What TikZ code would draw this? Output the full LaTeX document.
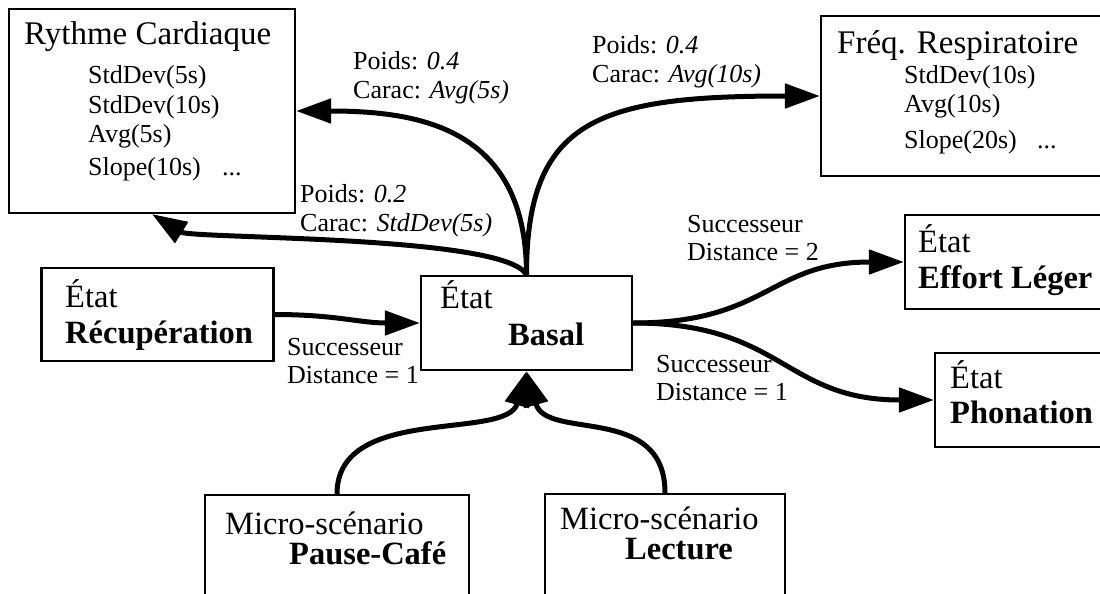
\documentclass[tikz,border=0pt]{standalone}
\usepackage{fontspec}
\setmainfont{Liberation Serif}
\usetikzlibrary{arrows.meta}
\begin{document}
\begin{tikzpicture}[x=1pt,y=-1pt,
  box/.style={draw, line width=2.2pt, inner sep=0pt, fill=white},
  conn/.style={line width=5pt, -{Triangle[length=35pt,width=24pt]}},
  ttl/.style={anchor=base west, inner sep=0pt, font=\fontsize{33}{38}\selectfont},
  itm/.style={anchor=base west, inner sep=0pt, font=\fontsize{26}{30}\selectfont},
  st/.style={anchor=base west, inner sep=0pt, font=\fontsize{32.5}{38}\selectfont},
  stb/.style={anchor=base west, inner sep=0pt, font=\fontsize{32.5}{38}\selectfont\bfseries},
  lbl/.style={anchor=base west, inner sep=0pt, font=\fontsize{26}{30}\selectfont}]
\useasboundingbox (0,0) rectangle (1100,594);
\clip (0,0) rectangle (1100,594);
\fill[white] (0,0) rectangle (1100,594);

% boxes
\node[box, minimum width=286pt, minimum height=204pt] (rc) at (152,111) {};
\node[box, minimum width=285pt, minimum height=160pt] (fr) at (963.5,96) {};
\node[box, minimum width=232pt, minimum height=93pt] (rec) at (157.5,314.5) {};
\node[box, minimum width=211pt, minimum height=94pt] (bas) at (526.5,323) {};
\node[box, minimum width=203pt, minimum height=94pt] (eff) at (1006.5,262) {};
\node[box, minimum width=173pt, minimum height=94pt] (pho) at (1021.5,400) {};
\node[box, minimum width=264pt, minimum height=114pt] (pau) at (337,552) {};
\node[box, minimum width=240pt, minimum height=114pt] (lec) at (665,551) {};

% texts in boxes
\node[ttl] (rct) at (24,45) {Rythme Cardiaque};
\node[itm] (rc1) at (88,83) {StdDev(5s)};
\node[itm] (rc2) at (88,113) {StdDev(10s)};
\node[itm] (rc3) at (88,142) {Avg(5s)};
\node[itm] (rc4) at (88,175) {Slope(10s)};
\node[itm] (rc5) at (222,175) {...};

\node[ttl] (frt) at (837,53) {Fréq. Respiratoire};
\node[itm] (fr1) at (904,83) {StdDev(10s)};
\node[itm] (fr2) at (904,112) {Avg(10s)};
\node[itm] (fr3) at (904,148) {Slope(20s)};
\node[itm] (fr4) at (1037,148) {...};

\node[st] (rec1) at (65,307) {État};
\node[stb] (rec2) at (65,343) {Récupération};
\node[st] (bas1) at (440,308) {État};
\node[stb] (bas2) at (508,345) {Basal};
\node[st] (eff1) at (918,252) {État};
\node[stb] (eff2) at (918,288) {Effort Léger};
\node[st] (pho1) at (950,388) {État};
\node[stb] (pho2) at (950,423) {Phonation};
\node[st] (pau1) at (225,534) {Micro-scénario};
\node[stb] (pau2) at (289,564) {Pause-Café};
\node[st] (lec1) at (560,529) {Micro-scénario};
\node[stb] (lec2) at (625,559) {Lecture};

% connectors
\draw[conn] (bas.north) .. controls +(0,-146) and +(125,0) .. (rc.east);
\draw[conn] (bas.north) .. controls +(-20,-40) and +(40,25) .. (rc.south);
\draw[conn] (bas.north) .. controls +(0,-156) and +(-221,0) .. (fr.west);
\draw[conn] (rec.east) .. controls +(60,0) and +(-60,0) .. (bas.west);
\draw[conn] (bas.east) .. controls +(135,0) and +(-135,0) .. (eff.west);
\draw[conn] (bas.east) .. controls +(150,0) and +(-150,0) .. (pho.west);
\draw[conn] (pau.north) .. controls +(0,-90) and +(-20,70) .. (bas.south);
\draw[conn] (lec.north) .. controls +(0,-90) and +(20,70) .. (bas.south);

% labels
\node[lbl] (l1a) at (353,70) {Poids: \textit{0.4}};
\node[lbl] (l1b) at (353,99) {Carac: \textit{Avg(5s)}};
\node[lbl] (l2a) at (300,202) {Poids: \textit{0.2}};
\node[lbl] (l2b) at (300,231) {Carac: \textit{StdDev(5s)}};
\node[lbl] (l3a) at (592,53) {Poids: \textit{0.4}};
\node[lbl] (l3b) at (592,82) {Carac: \textit{Avg(10s)}};
\node[lbl] (l4a) at (687,232) {Successeur};
\node[lbl] (l4b) at (687,260) {Distance = 2};
\node[lbl] (l5a) at (287,355) {Successeur};
\node[lbl] (l5b) at (287,383) {Distance = 1};
\node[lbl] (l6a) at (656,372) {Successeur};
\node[lbl] (l6b) at (656,400) {Distance = 1};
\end{tikzpicture}
\end{document}
